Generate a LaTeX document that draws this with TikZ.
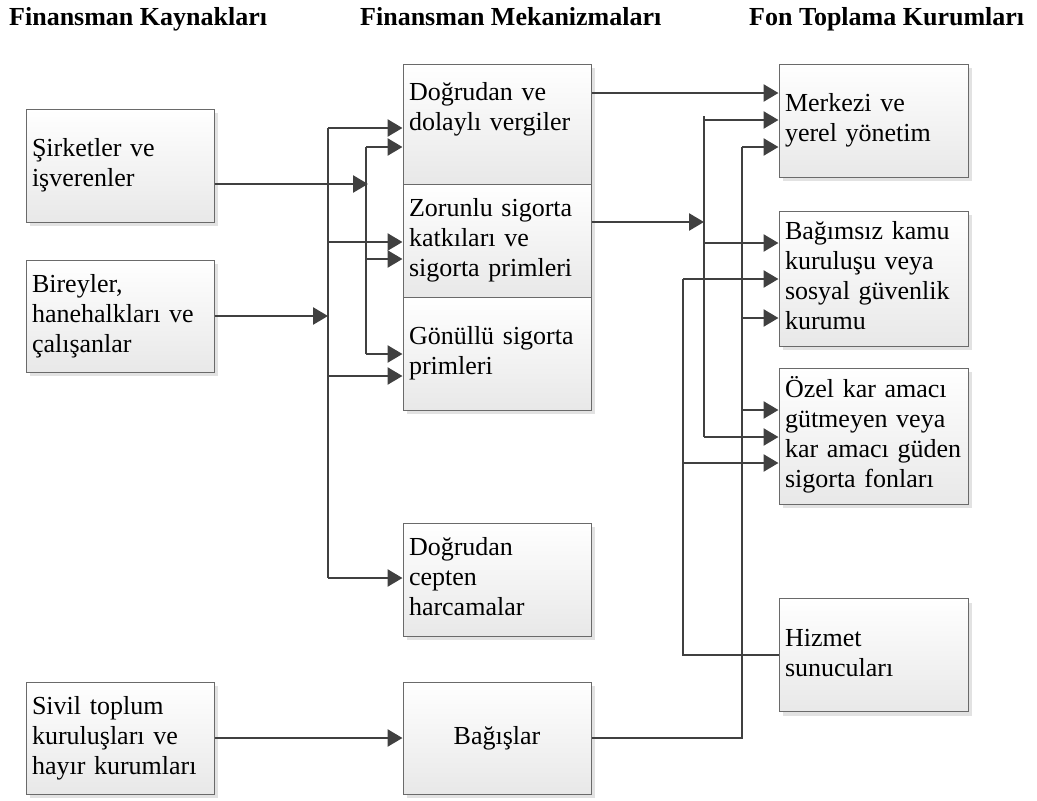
\documentclass[tikz,border=0pt]{standalone}
\usepackage{fontspec}
\setmainfont{Liberation Serif}
\usetikzlibrary{arrows.meta,shadows,calc}
\definecolor{linec}{HTML}{404040}
\definecolor{boxline}{HTML}{6A6A6A}
\definecolor{boxbot}{HTML}{E8E8E8}
\definecolor{shadowc}{HTML}{E2E2E2}
\tikzset{
  box/.style={draw=boxline, line width=1pt, top color=white, bottom color=boxbot,
    drop shadow={shadow xshift=4pt, shadow yshift=-4pt, fill=shadowc, opacity=1},
    minimum width=188pt, inner xsep=6pt, inner ysep=0pt, text width=176pt, align=left,
    font=\fontsize{26}{30}\selectfont, execute at begin node=\strut, execute at end node=\strut},
  rbox/.style={box, minimum width=189pt, text width=177pt},
  hdr/.style={font=\fontsize{26}{30}\selectfont\bfseries, inner sep=0pt, anchor=base west},
  ln/.style={draw=linec, line width=2.6pt},
  arr/.style={ln, -{Triangle[length=15pt,width=17pt]}}
}
\begin{document}
\begin{tikzpicture}[x=1pt,y=-1pt]
\useasboundingbox (0,0) rectangle (1037,801);
% headers
\node[hdr] (h1) at (9,25) {Finansman Kaynakları};
\node[hdr] (h2) at (360,25) {Finansman Mekanizmaları};
\node[hdr] (h3) at (749,25) {Fon Toplama Kurumları};
% left column
\node[box, minimum height=113pt] (sirket) at (120,165.5) {Şirketler ve\\işverenler};
\node[box, minimum height=112pt] (biry) at (120,316) {Bireyler,\\hanehalkları ve\\çalışanlar};
\node[box, minimum height=112pt] (sivil) at (120,738) {Sivil toplum\\kuruluşları ve\\hayır kurumları};
% middle column
\node[box, minimum height=120pt] (mech1) at (497,124) {Doğrudan ve\\dolaylı vergiler\\[14pt]};
\node[box, minimum height=113pt] (mech2) at (497,240.5) {Zorunlu sigorta\\katkıları ve\\sigorta primleri};
\node[box, minimum height=113pt] (mech3) at (497,353.5) {Gönüllü sigorta\\primleri};
\node[box, minimum height=113pt] (cepten) at (497,579.5) {Doğrudan\\cepten\\harcamalar};
\node[box, minimum height=112pt, align=center] (bagis) at (497,738) {Bağışlar};
% right column
\node[rbox, minimum height=113pt] (merkez) at (873.5,120.5) {Merkezi ve\\yerel yönetim};
\node[rbox, minimum height=135pt] (bagim) at (873.5,278.5) {Bağımsız kamu\\kuruluşu veya\\sosyal güvenlik\\kurumu};
\node[rbox, minimum height=136pt] (ozel) at (873.5,436) {Özel kar amacı\\gütmeyen veya\\kar amacı güden\\sigorta fonları};
\node[rbox, minimum height=113pt] (hizmet) at (873.5,655) {Hizmet\\sunucuları};
% coordinates
\coordinate (jS) at (368,184);
\coordinate (B1) at (366,147);
\coordinate (B2) at (366,259);
\coordinate (B3) at (366,354);
\coordinate (jA) at (328,316);
\coordinate (A1) at (328,128);
\coordinate (A2) at (328,242);
\coordinate (A3) at (328,376);
\coordinate (A4) at (328,578);
\coordinate (m1) at (600,93);
\coordinate (jC) at (704,222);
\coordinate (C0) at (704,116);
\coordinate (C1) at (704,120);
\coordinate (C2) at (704,243);
\coordinate (C3) at (704,437);
\coordinate (D1) at (742,147);
\coordinate (D2) at (742,318);
\coordinate (D3) at (742,410);
\coordinate (E1) at (683,279);
\coordinate (E2) at (683,463);
% left connectors
\draw[arr] (sirket.east |- jS) -- (jS);
\draw[arr] (biry.east |- jA) -- (jA);
\draw[ln] (A1) -- (A4);
\draw[arr] (A1) -- (A1 -| mech1.west);
\draw[arr] (A2) -- (A2 -| mech2.west);
\draw[arr] (A3) -- (A3 -| mech3.west);
\draw[arr] (A4) -- (A4 -| cepten.west);
\draw[ln] (B1) -- (B3);
\draw[arr] (B1) -- (B1 -| mech1.west);
\draw[arr] (B2) -- (B2 -| mech2.west);
\draw[arr] (B3) -- (B3 -| mech3.west);
\draw[arr] (sivil.east) -- (bagis.west);
% right connectors
\draw[arr] (m1 -| mech1.east) -- (m1 -| merkez.west);
\draw[arr] (jC -| mech2.east) -- (jC);
\draw[ln] (C0) -- (C3);
\draw[arr] (C1) -- (C1 -| merkez.west);
\draw[arr] (C2) -- (C2 -| bagim.west);
\draw[arr] (C3) -- (C3 -| ozel.west);
\draw[ln] (bagis.east) -- (bagis.east -| D1) -- (D1);
\draw[arr] (D1) -- (D1 -| merkez.west);
\draw[arr] (D2) -- (D2 -| bagim.west);
\draw[arr] (D3) -- (D3 -| ozel.west);
\draw[ln] (hizmet.west) -- (hizmet.west -| E1) -- (E1);
\draw[arr] (E1) -- (E1 -| bagim.west);
\draw[arr] (E2) -- (E2 -| ozel.west);
\end{tikzpicture}
\end{document}
